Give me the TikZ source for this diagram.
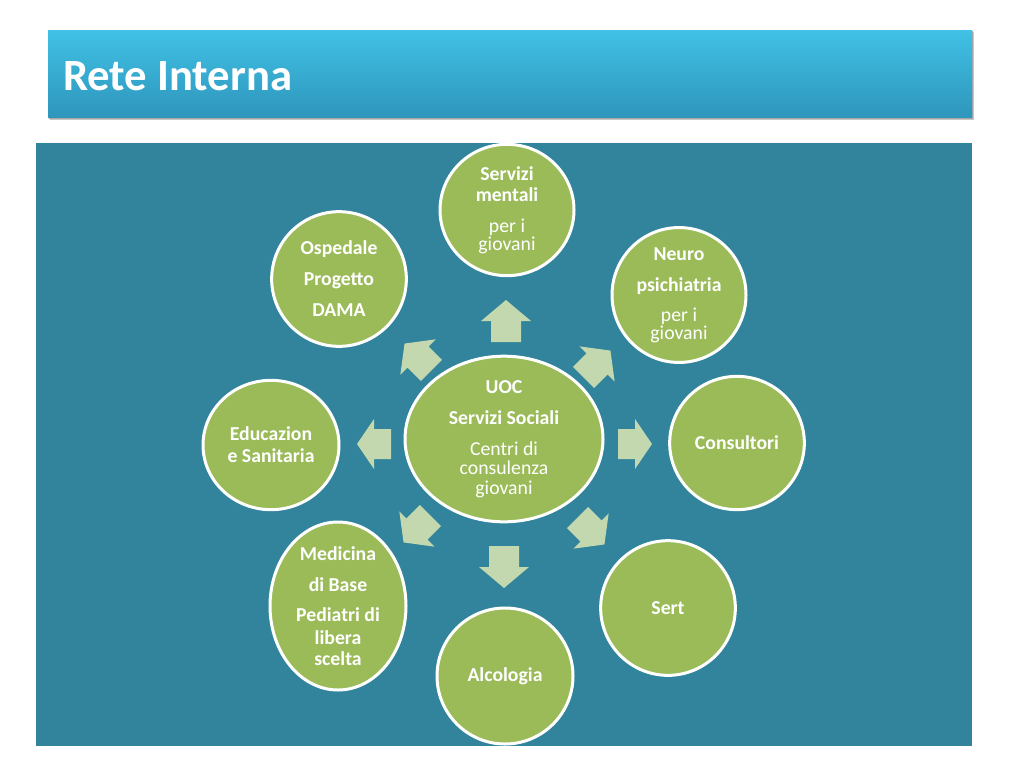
\documentclass[tikz,border=0pt]{standalone}
\usepackage{fontspec}
\setmainfont{Carlito}
\usepackage{tikz}
\usetikzlibrary{shapes.geometric}
\definecolor{panelc}{HTML}{31849B}
\definecolor{leafc}{HTML}{9BBB59}
\definecolor{arrc}{HTML}{C4D8B0}
\definecolor{bartop}{HTML}{40C1E5}
\definecolor{barbot}{HTML}{2F96BC}
\newcommand{\lblfont}{\fontsize{14.8}{14.6}\selectfont}
\tikzset{
  bubble/.style={ellipse, draw=white, fill=leafc, line width=2.25pt,
                 inner sep=0pt, text=white, align=center, font=\lblfont},
  pics/blockarr/.style 2 args={code={
      \fill[arrc] ({-#1/2},-15) -- ({#1/2-#2},-15) -- ({#1/2-#2},-25)
        -- ({#1/2},0) -- ({#1/2-#2},25) -- ({#1/2-#2},15)
        -- ({-#1/2},15) -- cycle;
  }},
}

\begin{document}
\begin{tikzpicture}[x=0.75pt, y=-0.75pt]
        \useasboundingbox (0,0) rectangle (1024,768);
        % title bar
        \fill[black!22] (50,32) rectangle (974,120);
        \fill[black!35] (49,31) rectangle (973,118.5);
        \shade[top color=bartop, bottom color=barbot] (48,30) rectangle (972,117);
        \node[anchor=base west, text=white, inner sep=0pt,
              font=\fontsize{33.5}{33}\selectfont\bfseries] (title) at (63,90)
              {Rete Interna};
        % panel
        \fill[panelc] (36,143) rectangle (972,746);
        % hub
        \node[bubble, minimum width=148.5pt, minimum height=119pt] (uoc)
              at (504,439) {\textbf{UOC}\\[8.6pt]\textbf{Servizi Sociali}\\[8.6pt]%
              Centri di\\consulenza\\giovani};
        % satellites
        \node[bubble, minimum width=100.5pt, minimum height=98.5pt] (mentali)
              at (507,210) {\textbf{Servizi}\\[1pt]\textbf{mentali}\\[8.6pt]%
              per i\\[-1pt]giovani};
        \node[bubble, minimum width=100.5pt, minimum height=100pt] (neuro)
              at (679,295) {\textbf{Neuro}\\[8.6pt]\textbf{psichiatria}\\[8pt]%
              per i\\[-1pt]giovani};
        \node[bubble, minimum width=101pt, minimum height=100pt] (consult)
              at (737,443) {\textbf{Consultori}};
        \node[bubble, minimum width=101pt, minimum height=101pt] (sert)
              at (668,608) {\textbf{Sert}};
        \node[bubble, minimum width=102pt, minimum height=102pt] (alcol)
              at (505,676) {\textbf{Alcologia}};
        \node[bubble, minimum width=102pt, minimum height=110pt] (medicina)
              at (338,606) {\textbf{Medicina}\\[8.6pt]\textbf{di Base}\\[8pt]%
              \textbf{Pediatri di}\\[2.6pt]\textbf{libera}\\[1pt]\textbf{scelta}};
        \node[bubble, minimum width=102pt, minimum height=97pt] (educ)
              at (271,445) {\textbf{Educazion}\\[2pt]\textbf{e Sanitaria}};
        \node[bubble, minimum width=101pt, minimum height=101pt] (ospedale)
              at (339,279) {\textbf{Ospedale}\\[8.6pt]\textbf{Progetto}\\[8.6pt]%
              \textbf{DAMA}};
        % arrows
        \pic[rotate=90]  at (506,321) {blockarr={42}{21}};
        \pic[rotate=270] at (504,567) {blockarr={42}{21}};
        \pic             at (635,444) {blockarr={34}{17}};
        \pic[rotate=180] at (374,444) {blockarr={34}{17}};
        \pic[rotate=135] at (418,357) {blockarr={38}{19}};
        \pic[rotate=45]  at (597,364) {blockarr={38}{19}};
        \pic[rotate=225] at (417,529) {blockarr={38}{19}};
        \pic[rotate=315] at (591,531) {blockarr={38}{19}};
\end{tikzpicture}
\end{document}
